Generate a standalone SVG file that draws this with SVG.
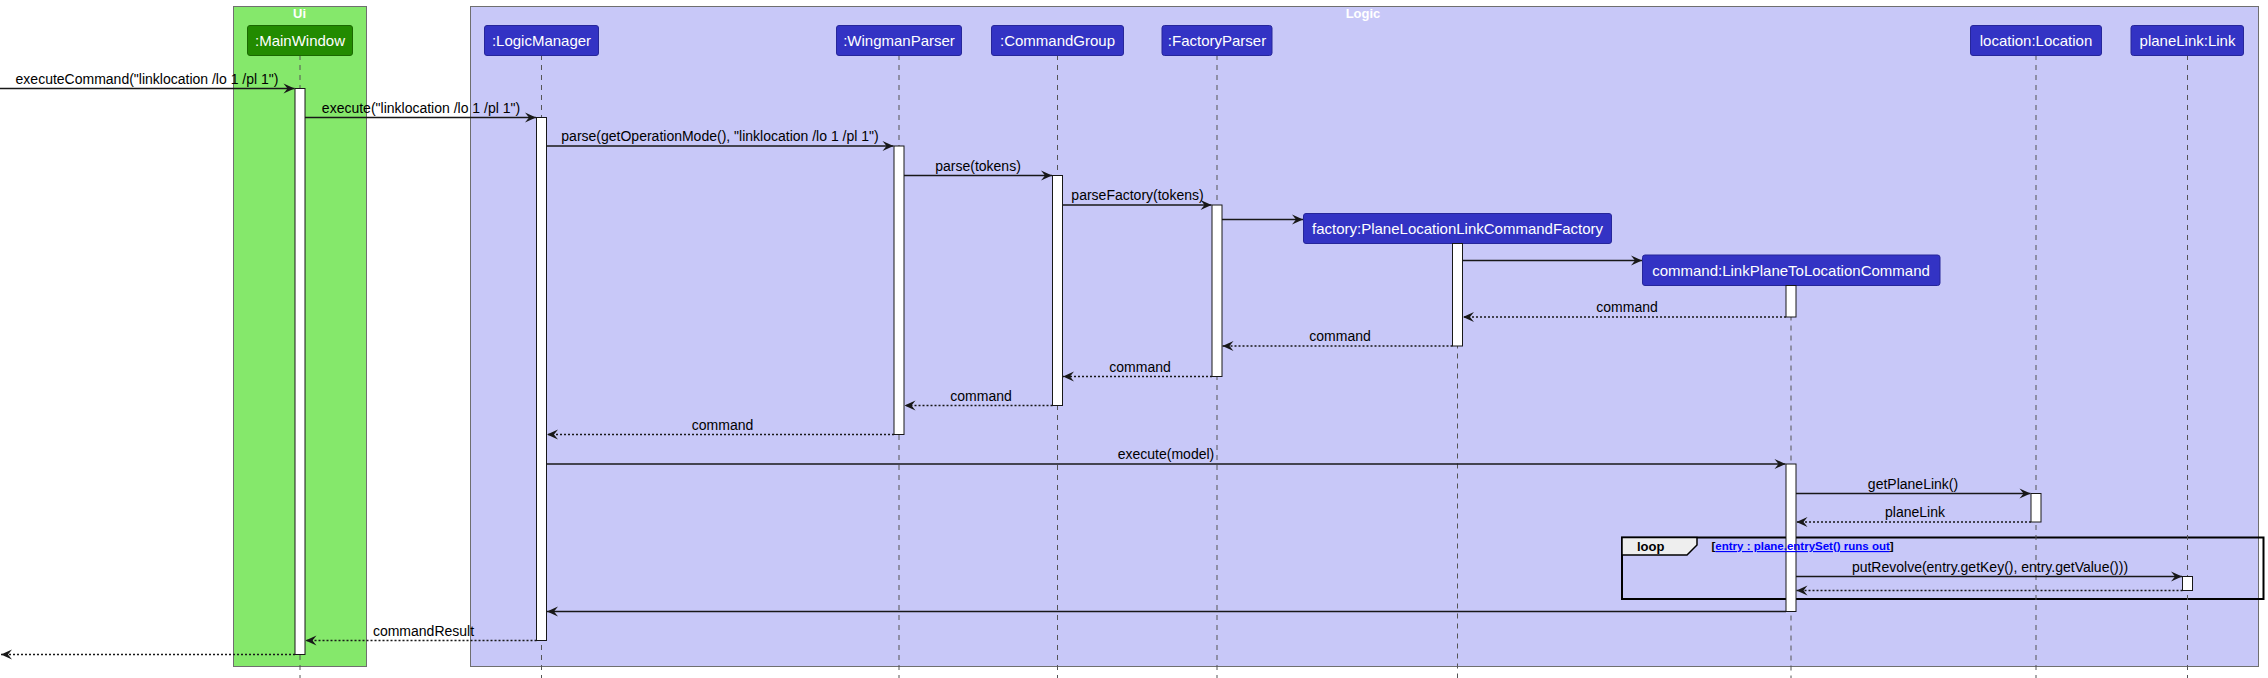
<svg xmlns="http://www.w3.org/2000/svg" width="2268" height="678" viewBox="0 0 2268 678">
<style>
.frame{stroke:#6f6f6f;stroke-width:1}
.ftitle{font-family:"Liberation Sans",Arial,sans-serif;font-size:13px;font-weight:bold;fill:#ffffff;text-anchor:middle}
.part{fill:#3333c4;stroke:#26269a;stroke-width:1}
.partg{fill:#228b00;stroke:#1a6800;stroke-width:1}
.ptext{font-family:"Liberation Sans",Arial,sans-serif;font-size:15px;fill:#ffffff;text-anchor:middle}
.life{stroke:#555555;stroke-width:1;stroke-dasharray:5,5;fill:none}
.act{fill:#ffffff;stroke:#181818;stroke-width:1}
.msg{stroke:#181818;stroke-width:1.3;fill:none;marker-end:url(#arr)}
.ret{stroke:#181818;stroke-width:1.3;fill:none;stroke-dasharray:2,2;marker-end:url(#arr)}
.lbl{font-family:"Liberation Sans",Arial,sans-serif;font-size:14px;fill:#000000;text-anchor:middle}
.loopf{fill:none;stroke:#000000;stroke-width:2}
.tab{fill:#eeeeee;stroke:#000000;stroke-width:1.5}
.loopt{font-family:"Liberation Sans",Arial,sans-serif;font-size:13px;font-weight:bold;fill:#000000}
.guard{font-family:"Liberation Sans",Arial,sans-serif;font-size:11.5px;font-weight:bold;fill:#000000}
.link{fill:#0000ff;text-decoration:underline}
</style>
<defs>
<marker id="arr" markerUnits="userSpaceOnUse" viewBox="-12 -6 13 12" refX="0" refY="0" markerWidth="13" markerHeight="12" orient="auto">
<path d="M0,0 L-11,-5 L-7,0 L-11,5 Z" fill="#181818" stroke="none"/>
</marker>
</defs>
<rect width="2268" height="678" fill="#ffffff"/>
<g id="frame-ui">
<rect class="frame" x="233.5" y="6.5" width="133" height="660" fill="#85e86b"/>
<text class="ftitle" x="299.5" y="18">Ui</text>
</g>
<g id="frame-logic">
<rect class="frame" x="470.5" y="6.5" width="1788" height="660" fill="#c8c8f8"/>
<text class="ftitle" x="1363" y="18">Logic</text>
</g>
<g id="loop-fragment">
<rect class="loopf" x="1622" y="537.5" width="641.5" height="61.5"/>
<path class="tab" d="M1622,537.5 H1697 V545 L1687,555 H1622 Z"/>
<text class="loopt" x="1637" y="551">loop</text>
</g>
<g id="MainWindow">
<line class="life" x1="300" y1="55" x2="300" y2="678"/>
<rect class="partg" x="247.5" y="25.5" width="105" height="30" rx="2.5"/>
<text class="ptext" x="300" y="45.5">:MainWindow</text>
<rect class="act" x="295" y="88.5" width="10" height="566"/>
</g>
<g id="LogicManager">
<line class="life" x1="541.5" y1="55" x2="541.5" y2="678"/>
<rect class="part" x="484.5" y="25.5" width="114" height="30" rx="2.5"/>
<text class="ptext" x="541.5" y="45.5">:LogicManager</text>
<rect class="act" x="536.5" y="117.5" width="10" height="523"/>
</g>
<g id="WingmanParser">
<line class="life" x1="899" y1="55" x2="899" y2="678"/>
<rect class="part" x="836.5" y="25.5" width="125" height="30" rx="2.5"/>
<text class="ptext" x="899" y="45.5">:WingmanParser</text>
<rect class="act" x="894" y="146" width="10" height="288.5"/>
</g>
<g id="CommandGroup">
<line class="life" x1="1057.5" y1="55" x2="1057.5" y2="678"/>
<rect class="part" x="991.5" y="25.5" width="132" height="30" rx="2.5"/>
<text class="ptext" x="1057.5" y="45.5">:CommandGroup</text>
<rect class="act" x="1052.5" y="175.5" width="10" height="230"/>
</g>
<g id="FactoryParser">
<line class="life" x1="1217" y1="55" x2="1217" y2="678"/>
<rect class="part" x="1162" y="25.5" width="110" height="30" rx="2.5"/>
<text class="ptext" x="1217" y="45.5">:FactoryParser</text>
<rect class="act" x="1212" y="205" width="10" height="171.5"/>
</g>
<g id="factory">
<line class="life" x1="1457.5" y1="243.5" x2="1457.5" y2="678"/>
<rect class="part" x="1303.5" y="213.5" width="308" height="30" rx="2.5"/>
<text class="ptext" x="1457.5" y="234">factory:PlaneLocationLinkCommandFactory</text>
<rect class="act" x="1452.5" y="243.5" width="10" height="102.5"/>
</g>
<g id="command">
<line class="life" x1="1791" y1="285.5" x2="1791" y2="678"/>
<rect class="part" x="1642.5" y="255" width="297.5" height="30.5" rx="2.5"/>
<text class="ptext" x="1791" y="275.5">command:LinkPlaneToLocationCommand</text>
<rect class="act" x="1786" y="285.5" width="10" height="31.5"/>
<rect class="act" x="1786" y="464" width="10" height="147.5"/>
</g>
<g id="location">
<line class="life" x1="2036" y1="55" x2="2036" y2="678"/>
<rect class="part" x="1970.5" y="25.5" width="131" height="30" rx="2.5"/>
<text class="ptext" x="2036" y="45.5">location:Location</text>
<rect class="act" x="2031" y="493.5" width="10" height="28.5"/>
</g>
<g id="planeLink">
<line class="life" x1="2187.5" y1="55" x2="2187.5" y2="678"/>
<rect class="part" x="2131" y="25.5" width="112.5" height="30" rx="2.5"/>
<text class="ptext" x="2187.5" y="45.5">planeLink:Link</text>
<rect class="act" x="2182.5" y="576.5" width="10" height="14"/>
</g>
<g id="guard">
<text class="guard" x="1711.5" y="550">[<tspan class="link">entry : plane.entrySet() runs out</tspan>]</text>
</g>
<g id="connectors">
<line class="msg" x1="0" y1="88.5" x2="294.5" y2="88.5"/>
<text class="lbl" x="147" y="83.5">executeCommand("linklocation /lo 1 /pl 1")</text>
<line class="msg" x1="305" y1="117.5" x2="536" y2="117.5"/>
<text class="lbl" x="421" y="112.5">execute("linklocation /lo 1 /pl 1")</text>
<line class="msg" x1="546.5" y1="146" x2="893.5" y2="146"/>
<text class="lbl" x="720" y="141">parse(getOperationMode(), "linklocation /lo 1 /pl 1")</text>
<line class="msg" x1="904" y1="175.5" x2="1052" y2="175.5"/>
<text class="lbl" x="978" y="170.5">parse(tokens)</text>
<line class="msg" x1="1062.5" y1="205" x2="1211.5" y2="205"/>
<text class="lbl" x="1137.5" y="200">parseFactory(tokens)</text>
<line class="msg" x1="1222" y1="219.5" x2="1303" y2="219.5"/>
<line class="msg" x1="1462.5" y1="260.5" x2="1642" y2="260.5"/>
<line class="ret" x1="1786" y1="317" x2="1463" y2="317"/>
<text class="lbl" x="1627" y="312">command</text>
<line class="ret" x1="1452.5" y1="346" x2="1222.5" y2="346"/>
<text class="lbl" x="1340" y="341">command</text>
<line class="ret" x1="1212" y1="376.5" x2="1063" y2="376.5"/>
<text class="lbl" x="1140" y="371.5">command</text>
<line class="ret" x1="1052.5" y1="405.5" x2="904.5" y2="405.5"/>
<text class="lbl" x="981" y="400.5">command</text>
<line class="ret" x1="894" y1="434.5" x2="547" y2="434.5"/>
<text class="lbl" x="722.5" y="429.5">command</text>
<line class="msg" x1="546.5" y1="464" x2="1785.5" y2="464"/>
<text class="lbl" x="1166" y="459">execute(model)</text>
<line class="msg" x1="1796" y1="493.5" x2="2030.5" y2="493.5"/>
<text class="lbl" x="1913" y="488.5">getPlaneLink()</text>
<line class="ret" x1="2031" y1="522" x2="1796.5" y2="522"/>
<text class="lbl" x="1915" y="517">planeLink</text>
<line class="msg" x1="1796" y1="576.5" x2="2182" y2="576.5"/>
<text class="lbl" x="1990" y="571.5">putRevolve(entry.getKey(), entry.getValue()))</text>
<line class="ret" x1="2182.5" y1="590.5" x2="1796.5" y2="590.5"/>
<line class="msg" x1="1786" y1="611.5" x2="547" y2="611.5"/>
<line class="ret" x1="536.5" y1="640.5" x2="305.5" y2="640.5"/>
<text class="lbl" x="423.5" y="635.5">commandResult</text>
<line class="ret" x1="295" y1="654.5" x2="1" y2="654.5"/>
</g>
</svg>
